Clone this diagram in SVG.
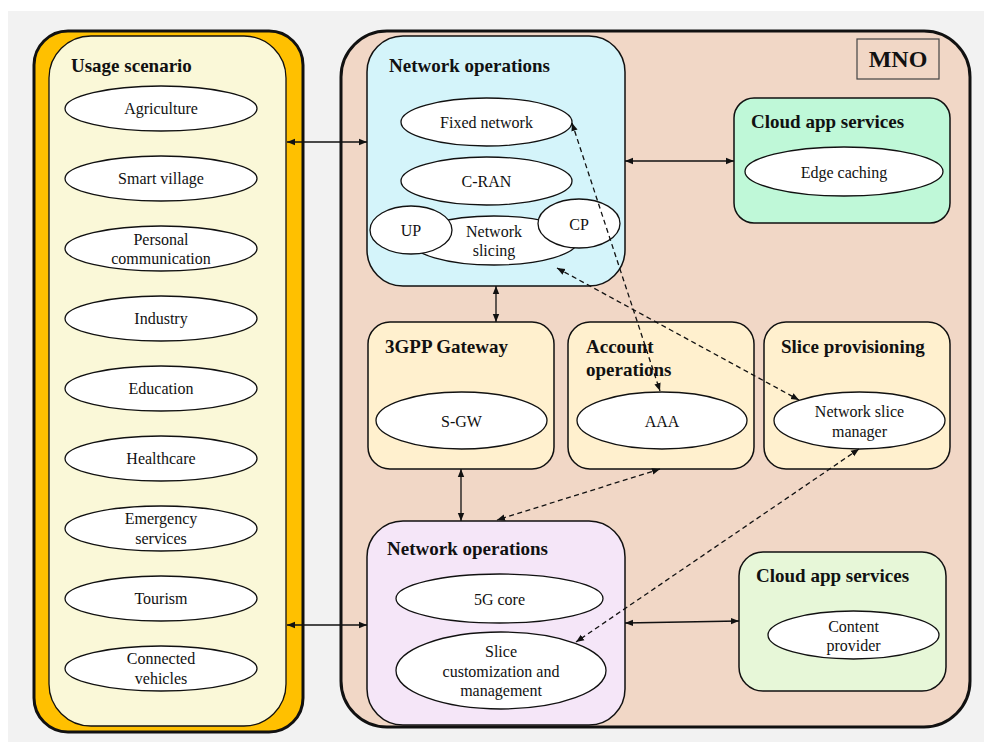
<svg xmlns="http://www.w3.org/2000/svg" width="984" height="742" viewBox="0 0 984 742">
<defs>
<style>
.t{font-family:"Liberation Serif","Times New Roman",serif;font-size:16px;fill:#111;text-anchor:middle}
.h{font-family:"Liberation Serif","Times New Roman",serif;font-size:19px;font-weight:bold;fill:#111}
.e{fill:#fff;stroke:#111;stroke-width:1.3}
.b{stroke:#111;stroke-width:1.5}
.c{stroke:#111;stroke-width:1.3;fill:none;marker-start:url(#as);marker-end:url(#ae)}
.d{stroke-dasharray:5,3.5}
</style>
<marker id="ae" viewBox="0 0 10 10" refX="10" refY="5" markerWidth="8" markerHeight="8" markerUnits="userSpaceOnUse" orient="auto"><path d="M0,1 L10,5 L0,9 Z" fill="#111"/></marker>
<marker id="as" viewBox="0 0 10 10" refX="0" refY="5" markerWidth="8" markerHeight="8" markerUnits="userSpaceOnUse" orient="auto"><path d="M10,1 L0,5 L10,9 Z" fill="#111"/></marker>
</defs>
<rect x="8" y="11" width="976" height="731" fill="#f2f2f2"/>

<g id="usage">
<rect x="34" y="31" width="269" height="701" rx="34" fill="#FFC000" stroke="#111" stroke-width="3"/>
<rect x="49" y="36" width="237" height="690" rx="42" fill="#FAF8D8" stroke="#111" stroke-width="1.3"/>
<text class="h" x="71" y="72">Usage scenario</text>
<g id="agri"><ellipse class="e" cx="161" cy="108.5" rx="96" ry="22.5"/><text class="t" x="161" y="114">Agriculture</text></g>
<g id="smart"><ellipse class="e" cx="161" cy="178.5" rx="96" ry="22.5"/><text class="t" x="161" y="184">Smart village</text></g>
<g id="personal"><ellipse class="e" cx="161" cy="248.5" rx="96" ry="22.5"/><text class="t" x="161" y="245">Personal</text><text class="t" x="161" y="264">communication</text></g>
<g id="industry"><ellipse class="e" cx="161" cy="318.5" rx="96" ry="22.5"/><text class="t" x="161" y="324">Industry</text></g>
<g id="education"><ellipse class="e" cx="161" cy="388.5" rx="96" ry="22.5"/><text class="t" x="161" y="394">Education</text></g>
<g id="health"><ellipse class="e" cx="161" cy="458.5" rx="96" ry="22.5"/><text class="t" x="161" y="464">Healthcare</text></g>
<g id="emergency"><ellipse class="e" cx="161" cy="528.5" rx="96" ry="22.5"/><text class="t" x="161" y="524">Emergency</text><text class="t" x="161" y="544">services</text></g>
<g id="tourism"><ellipse class="e" cx="161" cy="598.5" rx="96" ry="22.5"/><text class="t" x="161" y="604">Tourism</text></g>
<g id="vehicles"><ellipse class="e" cx="161" cy="668.5" rx="96" ry="22.5"/><text class="t" x="161" y="664">Connected</text><text class="t" x="161" y="684">vehicles</text></g>
</g>

<g id="mno">
<rect x="341" y="31" width="629" height="696" rx="46" fill="#F1D7C6" stroke="#111" stroke-width="3"/>
<rect x="857" y="39" width="82" height="40" fill="#F1D7C6" stroke="#444" stroke-width="1.2"/>
<text x="898" y="67" font-family="Liberation Serif, serif" font-size="24" font-weight="bold" fill="#111" text-anchor="middle">MNO</text>
</g>

<g id="netops-top">
<rect class="b" x="367" y="36" width="258" height="250" rx="36" fill="#D4F4FA"/>
<text class="h" x="389" y="72">Network operations</text>
<g id="fixed"><ellipse class="e" cx="486.5" cy="122" rx="85.5" ry="24"/><text class="t" x="486.5" y="128">Fixed network</text></g>
<g id="cran"><ellipse class="e" cx="486.5" cy="181" rx="85.5" ry="24"/><text class="t" x="486.5" y="187">C-RAN</text></g>
<g id="slicing"><ellipse class="e" cx="494" cy="240.5" rx="84" ry="24.5"/><text class="t" x="494" y="237">Network</text><text class="t" x="494" y="256">slicing</text></g>
<g id="up"><ellipse class="e" cx="411" cy="230" rx="41" ry="24"/><text class="t" x="411" y="236">UP</text></g>
<g id="cp"><ellipse class="e" cx="579" cy="223.5" rx="41" ry="24.5"/><text class="t" x="579" y="230">CP</text></g>
</g>

<g id="cloud-top">
<rect class="b" x="734" y="98" width="216" height="125" rx="20" fill="#BFF8D8"/>
<text class="h" x="751" y="128">Cloud app services</text>
<g id="edge"><ellipse class="e" cx="844" cy="171.5" rx="99" ry="24.5"/><text class="t" x="844" y="178">Edge caching</text></g>
</g>

<g id="gateway">
<rect class="b" x="368" y="322" width="186" height="147" rx="22" fill="#FFF0CE"/>
<text class="h" x="385" y="353">3GPP Gateway</text>
<g id="sgw"><ellipse class="e" cx="461.5" cy="420.5" rx="85.5" ry="28.5"/><text class="t" x="461.5" y="427">S-GW</text></g>
</g>

<g id="account">
<rect class="b" x="568" y="322" width="186" height="147" rx="22" fill="#FFF0CE"/>
<text class="h" x="586" y="353">Account</text>
<text class="h" x="586" y="376">operations</text>
<g id="aaa"><ellipse class="e" cx="662" cy="420.5" rx="85" ry="28.5"/><text class="t" x="662" y="427">AAA</text></g>
</g>

<g id="slice-prov">
<rect class="b" x="764" y="322" width="186" height="147" rx="22" fill="#FFF0CE"/>
<text class="h" x="781" y="353">Slice provisioning</text>
<g id="nsm"><ellipse class="e" cx="859.5" cy="420.5" rx="85.5" ry="28.5"/><text class="t" x="859.5" y="417">Network slice</text><text class="t" x="859.5" y="437">manager</text></g>
</g>

<g id="netops-bottom">
<rect class="b" x="367" y="521" width="258" height="204" rx="36" fill="#F5E6F8"/>
<text class="h" x="387" y="555">Network operations</text>
<g id="core"><ellipse class="e" cx="499.5" cy="598.5" rx="103.5" ry="24.5"/><text class="t" x="499.5" y="605">5G core</text></g>
<g id="slicecust"><ellipse class="e" cx="501" cy="670.5" rx="105" ry="38.5"/><text class="t" x="501" y="657">Slice</text><text class="t" x="501" y="677">customization and</text><text class="t" x="501" y="696">management</text></g>
</g>

<g id="cloud-bottom">
<rect class="b" x="739" y="552" width="207" height="139" rx="24" fill="#E7F7D8"/>
<text class="h" x="756" y="582">Cloud app services</text>
<g id="content"><ellipse class="e" cx="853.5" cy="635" rx="85.5" ry="24"/><text class="t" x="853.5" y="632">Content</text><text class="t" x="853.5" y="651">provider</text></g>
</g>

<g id="connectors">
<line class="c" x1="287" y1="142" x2="367" y2="142"/>
<line class="c" x1="287" y1="625" x2="367" y2="625"/>
<line class="c" x1="625" y1="161" x2="734" y2="161"/>
<line class="c" x1="496" y1="286" x2="496" y2="322"/>
<line class="c" x1="461" y1="469" x2="461" y2="521"/>
<line class="c" x1="625" y1="623" x2="739" y2="621"/>
<line class="c d" x1="572" y1="123" x2="660" y2="391"/>
<line class="c d" x1="557" y1="268" x2="799" y2="400"/>
<line class="c d" x1="660" y1="469" x2="497" y2="520"/>
<line class="c d" x1="859" y1="449" x2="576" y2="642"/>
</g>
</svg>
